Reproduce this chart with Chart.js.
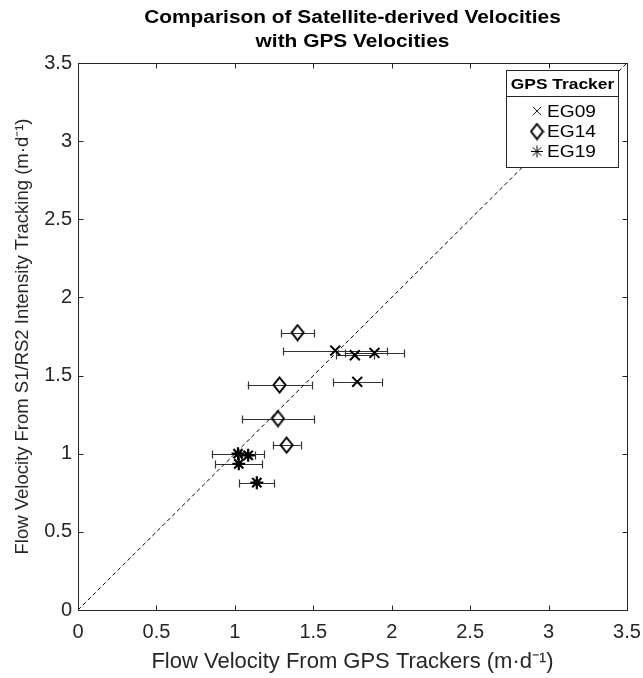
<!DOCTYPE html>
<html>
<head>
<meta charset="utf-8">
<script src="https://cdn.jsdelivr.net/npm/chart.js@4.4.1/dist/chart.umd.min.js"></script>
<style>
  html, body { margin: 0; padding: 0; background: #fff; }
  #wrap { width: 643px; height: 678px; }
</style>
</head>
<body>
<div id="wrap"><canvas id="plot" width="643" height="678"></canvas></div>
<script>
// --- data ---
const titleLines = ["Comparison of Satellite-derived Velocities", "with GPS Velocities"];
const xLabel = "Flow Velocity From GPS Trackers (m\u00b7d\u207b\u00b9)";
const yLabel = "Flow Velocity From S1/RS2 Intensity Tracking (m\u00b7d\u207b\u00b9)";
const legendTitle = "GPS Tracker";
const trackers = ["EG09", "EG14", "EG19"];

const eg09X = [1.64, 1.765, 1.89, 1.78];
const eg09Y = [1.66, 1.63, 1.645, 1.46];
const eg09Err = [0.33, 0.12, 0.19, 0.155];

const eg14X = [1.40, 1.285, 1.275, 1.33];
const eg14Y = [1.775, 1.44, 1.225, 1.055];
const eg14Err = [0.107, 0.204, 0.232, 0.089];

const eg19X = [1.02, 1.085, 1.025, 1.14];
const eg19Y = [1.0, 0.99, 0.935, 0.815];
const eg19Err = [0.168, 0.045, 0.149, 0.112];

const oneToOneX = [0, 3.5];
const oneToOneY = [0, 3.5];

const axisTicks = [0, 0.5, 1, 1.5, 2, 2.5, 3, 3.5];

const INK = "#262626";
const FONT = "'Liberation Sans', Arial, Helvetica, sans-serif";
const TEXT_STRETCH = 1.16; // the figure's text runs a bit wide

// --- tall MATLAB-like diamond marker ---
function makeDiamond() {
  const c = document.createElement("canvas");
  c.width = 15; c.height = 18;
  const g = c.getContext("2d");
  g.strokeStyle = "#000";
  g.lineWidth = 2;
  g.beginPath();
  g.moveTo(7.5, 1.5);
  g.lineTo(13.5, 9);
  g.lineTo(7.5, 16.5);
  g.lineTo(1.5, 9);
  g.closePath();
  g.stroke();
  return c;
}
const diamond = makeDiamond();

function pts(xs, ys, errs) {
  return xs.map((x, i) => ({ x: x, y: ys[i], err: errs ? errs[i] : 0 }));
}

function wideText(ctx, text, x, y) {
  ctx.save();
  ctx.translate(x, y);
  ctx.scale(TEXT_STRETCH, 1);
  ctx.fillText(text, 0, 0);
  ctx.restore();
}

// --- plugins ---
const errorBars = {
  id: "errorBars",
  beforeDatasetsDraw(chart) {
    const { ctx, scales: { x, y } } = chart;
    ctx.save();
    ctx.strokeStyle = "#333";
    ctx.lineWidth = 1.2;
    chart.data.datasets.forEach((ds) => {
      if (!ds.errorBars) return;
      ds.data.forEach((p) => {
        const x0 = x.getPixelForValue(p.x - p.err);
        const x1 = x.getPixelForValue(p.x + p.err);
        const py = Math.round(y.getPixelForValue(p.y)) + 0.5;
        ctx.beginPath();
        ctx.moveTo(x0, py); ctx.lineTo(x1, py);
        ctx.moveTo(Math.round(x0) + 0.5, py - 4); ctx.lineTo(Math.round(x0) + 0.5, py + 4);
        ctx.moveTo(Math.round(x1) + 0.5, py - 4); ctx.lineTo(Math.round(x1) + 0.5, py + 4);
        ctx.stroke();
      });
    });
    ctx.restore();
  },
};

const frame = {
  id: "frame",
  afterDraw(chart) {
    const { ctx, chartArea: a, scales: { x, y } } = chart;
    ctx.save();
    ctx.strokeStyle = INK;
    ctx.lineWidth = 1;
    const L = Math.round(a.left) + 0.5, R = Math.round(a.right) + 0.5;
    const T = Math.round(a.top) + 0.5, B = Math.round(a.bottom) + 0.5;
    ctx.strokeRect(L, T, R - L, B - T);
    ctx.beginPath();
    axisTicks.forEach((v) => {
      const px = Math.round(x.getPixelForValue(v)) + 0.5;
      ctx.moveTo(px, B); ctx.lineTo(px, B - 5);
      ctx.moveTo(px, T); ctx.lineTo(px, T + 5);
      const py = Math.round(y.getPixelForValue(v)) + 0.5;
      ctx.moveTo(L, py); ctx.lineTo(L + 5, py);
      ctx.moveTo(R, py); ctx.lineTo(R - 5, py);
    });
    ctx.stroke();

    // title
    ctx.fillStyle = "#000";
    ctx.font = "bold 18px " + FONT;
    ctx.textAlign = "center";
    ctx.textBaseline = "middle";
    const cx = (a.left + a.right) / 2;
    wideText(ctx, titleLines[0], cx, 18);
    wideText(ctx, titleLines[1], cx, 42);

    // legend box
    const bx = 506.5, by = 70.5, bw = 112, bh = 97;
    ctx.fillStyle = "#fff";
    ctx.fillRect(bx, by, bw, bh);
    ctx.strokeStyle = INK;
    ctx.strokeRect(bx, by, bw, bh);
    ctx.beginPath();
    ctx.moveTo(bx, by + 26); ctx.lineTo(bx + bw, by + 26);
    ctx.stroke();
    ctx.fillStyle = "#000";
    ctx.font = "bold 15px " + FONT;
    wideText(ctx, legendTitle, bx + bw / 2, by + 14);
    ctx.font = "16.5px " + FONT;
    ctx.textAlign = "left";
    const rowY = [111, 131.5, 151.5];
    trackers.forEach((name, i) => {
      const ds = chart.data.datasets[i];
      Chart.helpers.drawPoint(ctx, {
        pointStyle: ds.pointStyle,
        radius: ds.legendRadius,
        borderWidth: ds.borderWidth,
      }, 537, rowY[i]);
      ctx.strokeStyle = "#000";
      wideText(ctx, name, 547, rowY[i] + 1);
    });
    ctx.restore();
  },
};

Chart.defaults.font.family = FONT;
Chart.defaults.color = INK;

const tickFmt = (v) => String(v);

new Chart(document.getElementById("plot"), {
  type: "scatter",
  data: {
    datasets: [
      {
        label: trackers[0],
        data: pts(eg09X, eg09Y, eg09Err),
        errorBars: true,
        pointStyle: "crossRot",
        pointRadius: 7,
        legendRadius: 6,
        borderWidth: 2,
        borderColor: "#000",
        backgroundColor: "#000",
      },
      {
        label: trackers[1],
        data: pts(eg14X, eg14Y, eg14Err),
        errorBars: true,
        pointStyle: diamond,
        pointRadius: 8,
        legendRadius: 8,
        borderWidth: 2,
        borderColor: "#000",
        backgroundColor: "rgba(0,0,0,0)",
      },
      {
        label: trackers[2],
        data: pts(eg19X, eg19Y, eg19Err),
        errorBars: true,
        pointStyle: "star",
        pointRadius: 6.5,
        legendRadius: 6,
        borderWidth: 2.2,
        borderColor: "#000",
        backgroundColor: "#000",
      },
      {
        label: "1:1",
        type: "line",
        data: pts(oneToOneX, oneToOneY),
        borderColor: "#000",
        borderWidth: 1,
        borderDash: [4, 3],
        pointRadius: 0,
        fill: false,
      },
    ],
  },
  options: {
    responsive: false,
    devicePixelRatio: 1,
    animation: false,
    layout: { padding: { top: 63, right: 16, left: 0, bottom: 0 } },
    plugins: {
      legend: { display: false },
      tooltip: { enabled: false },
      title: { display: false },
    },
    scales: {
      x: {
        type: "linear",
        min: 0,
        max: 3.5,
        afterBuildTicks: (s) => { s.ticks = axisTicks.map((v) => ({ value: v })); },
        afterFit: (s) => { s.height = 68; s.paddingLeft = 0; s.paddingRight = 0; },
        grid: { display: false, drawTicks: false },
        border: { display: false },
        ticks: { font: { size: 20 }, color: INK, padding: 10, callback: tickFmt, maxRotation: 0 },
        title: {
          display: true,
          text: xLabel,
          font: { size: 22 },
          color: INK,
          padding: { top: 0, bottom: 3 },
        },
      },
      y: {
        type: "linear",
        min: 0,
        max: 3.5,
        afterBuildTicks: (s) => { s.ticks = axisTicks.map((v) => ({ value: v })); },
        afterFit: (s) => { s.width = 78; s.paddingTop = 0; s.paddingBottom = 0; },
        grid: { display: false, drawTicks: false },
        border: { display: false },
        ticks: { font: { size: 20 }, color: INK, padding: 6, callback: tickFmt },
        title: {
          display: true,
          text: yLabel,
          font: { size: 18.5 },
          color: INK,
          padding: { top: 12, bottom: 0 },
        },
      },
    },
  },
  plugins: [errorBars, frame],
});
</script>
</body>
</html>
